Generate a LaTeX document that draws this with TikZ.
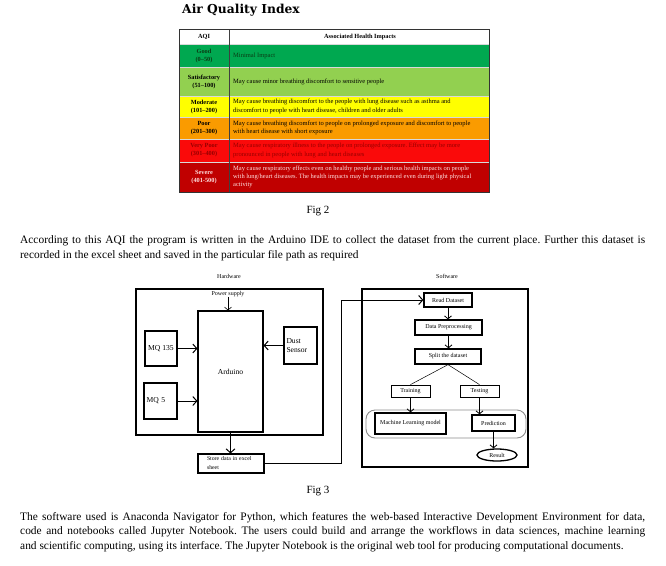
\documentclass[tikz,border=0pt]{standalone}
\usepackage{fontspec}
\setmainfont{Liberation Serif}
\newfontfamily\titlefont{DejaVu Serif}
\usetikzlibrary{arrows.meta,shapes.geometric}
\definecolor{cgood}{RGB}{0,168,80}
\definecolor{csat}{RGB}{146,208,80}
\definecolor{cmod}{RGB}{255,255,0}
\definecolor{cpoor}{RGB}{250,155,0}
\definecolor{cvpoor}{RGB}{250,10,10}
\definecolor{csev}{RGB}{192,0,0}
\definecolor{cgoodtxt}{RGB}{10,60,20}
\definecolor{cvptxt}{RGB}{150,0,0}
\definecolor{csevtxt}{RGB}{255,225,225}
\newcommand{\fsz}[2]{\fontsize{#1}{#2}\selectfont}
\frenchspacing
\tikzset{
  lab/.style={font=\bfseries\fsz{6.3}{8}, align=center, inner sep=0},
  imp/.style={font=\fsz{6.5}{8.3}, align=left, anchor=west, inner sep=0},
  ptext/.style={font=\fsz{11.4}{15}, anchor=base west, inner sep=0},
  figlab/.style={font=\fsz{11}{15}, anchor=base, inner sep=0},
  small/.style={font=\fsz{6}{7}, inner sep=0},
  outerbox/.style={draw, line width=1.2pt, inner sep=0},
  hwbox/.style={draw, line width=1.1pt, inner sep=0, font=\fsz{7.6}{9.5}},
  swbox/.style={draw, line width=1.3pt, inner sep=0, font=\fsz{6}{7}},
  swthin/.style={draw, line width=0.8pt, inner sep=0, font=\fsz{6}{7}},
  arr/.style={line width=1pt, -{Straight Barb[length=4pt,width=9pt]}},
  sarr/.style={line width=0.8pt, -{Straight Barb[length=3pt,width=7pt]}},
}
\begin{document}
\begin{tikzpicture}[x=1pt,y=-1pt]
\useasboundingbox (0,0) rectangle (666,565);
\fill[white] (0,0) rectangle (666,565);
% ---------- title ----------
\node[font=\titlefont\bfseries\fsz{12.3}{14}, inner sep=0] (title) at (241,10) {Air Quality Index};
% ---------- table ----------
\fill[white] (180,30) rectangle (489,44);
\fill[cgood] (180,44) rectangle (489,67);
\fill[csat] (180,67) rectangle (489,96);
\fill[cmod] (180,96) rectangle (489,117);
\fill[cpoor] (180,117) rectangle (489,139);
\fill[cvpoor] (180,139) rectangle (489,162);
\fill[csev] (180,162) rectangle (489,192);
\foreach \yy in {44,67,96,117,139,162}
  \draw[white!85!black, line width=0.6pt] (180,\yy) -- (489,\yy);
\draw[black!75, line width=0.9pt] (229,30) -- (229,192);
\draw[black!80, line width=1pt] (179.5,29.5) rectangle (489,192);
\node[lab] (hdr1) at (204,37) {AQI};
\node[lab] (hdr2) at (360,37) {Associated Health Impacts};
\node[lab, text=cgoodtxt] (l1) at (204,55.5) {Good\\(0–50)};
\node[lab] (l2) at (204,81.5) {Satisfactory\\(51–100)};
\node[lab] (l3) at (204,106.5) {Moderate\\(101–200)};
\node[lab] (l4) at (204,128) {Poor\\(201–300)};
\node[lab, text=cvptxt] (l5) at (204,150.5) {Very Poor\\(301–400)};
\node[lab, text=csevtxt] (l6) at (204,177) {Severe\\(401-500)};
\node[imp, text=cgoodtxt] (i1) at (233,55.5) {Minimal Impact};
\node[imp] (i2) at (233,81.5) {May cause minor breathing discomfort to sensitive people};
\node[imp] (i3) at (233,106.5) {May cause breathing discomfort to the people with lung disease such as asthma and\\discomfort to people with heart disease, children and older adults};
\node[imp] (i4) at (233,128) {May cause breathing discomfort to people on prolonged exposure and discomfort to people\\with heart disease with short exposure};
\node[imp, text=cvptxt] (i5) at (233,150.5) {May cause respiratory illness to the people on prolonged exposure. Effect may be more\\pronounced in people with lung and heart diseases};
\node[imp, text=csevtxt] (i6) at (233,177) {May cause respiratory effects even on healthy people and serious health impacts on people\\with lung/heart diseases. The health impacts may be experienced even during light physical\\activity};
% ---------- text ----------
\node[figlab] (fig2) at (318,213) {Fig 2};
\node[ptext] (p1a) at (20,243) {\makebox[625pt][s]{According to this AQI the program is written in the Arduino IDE to collect the dataset from the current place. Further this dataset is}};
\node[ptext] (p1b) at (20,258) {recorded in the excel sheet and saved in the particular file path as required};
% ---------- hardware ----------
\node[small] (hwlabel) at (229,276) {Hardware};
\node[outerbox, minimum width=187pt, minimum height=146pt] (hw) at (229.5,362) {};
\node[small] (power) at (228,294) {Power supply};
\node[hwbox, minimum width=65pt, minimum height=121pt] (arduino) at (230.5,371.5) {Arduino};
\node[hwbox, minimum width=32pt, minimum height=35pt] (mq135) at (161,348.5) {MQ 135};
\node[hwbox, minimum width=33pt, minimum height=37pt, text width=28pt, align=left] (dust) at (300.5,345.5) {Dust\\Sensor};
\node[hwbox, minimum width=33pt, minimum height=36pt, text width=28pt, align=left] (mq5) at (160.5,401) {MQ 5};
\node[draw, line width=1.1pt, inner sep=0, minimum width=66pt, minimum height=19pt, text width=48pt, align=left, font=\fsz{5.8}{9}] (store) at (231,463.5) {Store data in excel\\sheet};
\draw[line width=0.6pt, -{Straight Barb[length=3pt,width=7pt]}] (power.south) -- (power.south |- arduino.north);
\draw[arr] (mq135.east) -- (mq135.east -| arduino.west);
\draw[arr] (mq5.east) -- (mq5.east -| arduino.west);
\draw[arr] (dust.west) -- (dust.west -| arduino.east);
\draw[arr] (arduino.south) -- (store.north -| arduino.south);
% ---------- software ----------
\node[small] (swlabel) at (447,276) {Software};
\node[outerbox, minimum width=166pt, minimum height=178pt] (sw) at (445,378) {};
\node[swbox, minimum width=48pt, minimum height=14pt] (read) at (448,300) {Read Dataset};
\node[swbox, minimum width=67pt, minimum height=15pt] (prep) at (448.5,327.5) {Data Preprocessing};
\node[swbox, minimum width=66pt, minimum height=15pt] (split) at (448,356.5) {Split the dataset};
\node[swthin, minimum width=39pt, minimum height=12pt] (train) at (410.5,391) {Training};
\node[swthin, minimum width=39pt, minimum height=12pt] (test) at (479.5,391) {Testing};
\node[draw=black!45, line width=0.9pt, rounded corners=9pt, minimum width=160pt, minimum height=28pt, inner sep=0] (group) at (446,424) {};
\node[swbox, minimum width=71pt, minimum height=21pt] (ml) at (410.5,423.5) {Machine Learning model};
\node[swbox, minimum width=43pt, minimum height=16pt] (pred) at (493.5,423) {Prediction};
\node[draw, ellipse, line width=1.3pt, inner sep=0, minimum width=40pt, minimum height=12pt, font=\fsz{6}{7}] (result) at (497,455) {Result};
\draw[arr] (store.east) -- ++(77,0) |- (read.west);
\draw[sarr] (read.south) -- (read.south |- prep.north);
\draw[sarr] (prep.south) -- (prep.south |- split.north);
\draw[line width=0.5pt] (split.south) -- (train.north);
\draw[line width=0.5pt] (split.south) -- (test.north);
\draw[sarr] (train.south) -- (train.south |- ml.north);
\draw[sarr] (test.south) -- (test.south |- pred.north);
\draw[sarr] (pred.south) -- (pred.south |- result.north);
% ---------- bottom text ----------
\node[figlab] (fig3) at (318,493) {Fig 3};
\node[ptext] (p2a) at (20,520) {\makebox[625pt][s]{The software used is Anaconda Navigator for Python, which features the web-based Interactive Development Environment for data,}};
\node[ptext] (p2b) at (20,534.8) {\makebox[625pt][s]{code and notebooks called Jupyter Notebook. The users could build and arrange the workflows in data sciences, machine learning}};
\node[ptext] (p2c) at (20,549.6) {and scientific computing, using its interface. The Jupyter Notebook is the original web tool for producing computational documents.};
\end{tikzpicture}
\end{document}
